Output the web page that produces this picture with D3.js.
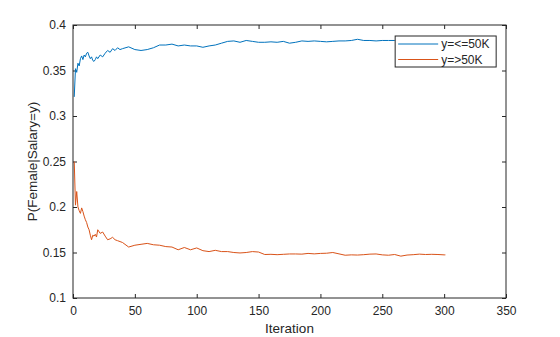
<!DOCTYPE html>
<html>
<head>
<meta charset="utf-8">
<script src="https://cdn.jsdelivr.net/npm/d3@7"></script>
<style>
  body { margin: 0; background: #fff; }
  svg { display: block; font-family: Arial, "Liberation Sans", sans-serif; }
  .tick text { fill: #262626; font-size: 12px; }
</style>
</head>
<body>
<svg id="chart" width="560" height="337"></svg>
<script>
// ======================
// DATA
// ======================

const iterations = [
    1, 2, 3, 4, 5, 6, 7, 8, 9, 10, 11, 12, 13, 14, 15, 16, 17, 18, 19, 20,
    22, 24, 26, 28, 30, 32, 34, 36, 38, 40,
    45, 50, 55, 60, 65, 70, 75, 80, 85, 90, 95, 100,
    105, 110, 115, 120, 125, 130, 135, 140, 145, 150,
    155, 160, 165, 170, 175, 180, 185, 190, 195, 200,
    205, 210, 215, 220, 225, 230, 235, 240, 245, 250,
    255, 260, 265, 270, 275, 280, 285, 290, 295, 300, 301
];

const lowSalary = [
    0.321, 0.352, 0.348, 0.358, 0.355, 0.363, 0.366, 0.362, 0.367, 0.365,
    0.369, 0.370, 0.366, 0.363, 0.365, 0.361, 0.360, 0.362, 0.365, 0.363,
    0.367, 0.365, 0.369, 0.372, 0.370, 0.374, 0.372, 0.375, 0.373, 0.374,
    0.376, 0.373, 0.372, 0.373, 0.375, 0.378, 0.378, 0.379, 0.377, 0.378, 0.377, 0.377,
    0.3755, 0.377, 0.378, 0.380, 0.382, 0.3825, 0.381, 0.383, 0.382, 0.381,
    0.381, 0.3815, 0.381, 0.382, 0.380, 0.381, 0.3825, 0.382, 0.3825, 0.382,
    0.3815, 0.382, 0.3825, 0.3825, 0.383, 0.3843, 0.383, 0.383, 0.3825, 0.383,
    0.383, 0.383, 0.383, 0.3832, 0.383, 0.3835, 0.383, 0.3835, 0.383, 0.3833, 0.3833
];

const highSalary = [
    0.250, 0.202, 0.217, 0.200, 0.196, 0.193, 0.199, 0.195, 0.190, 0.186,
    0.183, 0.178, 0.175, 0.169, 0.164, 0.169, 0.168, 0.170, 0.167, 0.175,
    0.171, 0.1725, 0.168, 0.164, 0.165, 0.1667, 0.164, 0.163, 0.162, 0.161,
    0.156, 0.158, 0.159, 0.160, 0.1585, 0.158, 0.1565, 0.156, 0.153, 0.1555, 0.153, 0.155,
    0.152, 0.151, 0.1524, 0.151, 0.151, 0.150, 0.1495, 0.150, 0.151, 0.1505,
    0.1478, 0.148, 0.1476, 0.148, 0.1484, 0.1484, 0.1482, 0.149, 0.1485, 0.149,
    0.1492, 0.150, 0.1485, 0.147, 0.1474, 0.1472, 0.1476, 0.1482, 0.1484, 0.1474,
    0.147, 0.1478, 0.146, 0.1472, 0.1476, 0.1482, 0.1478, 0.148, 0.1478, 0.1474, 0.1474
];

const seriesNames = ["y=<=50K", "y=>50K"];
const seriesColors = ["#0072BD", "#D95319"];
const xTicks = [0, 50, 100, 150, 200, 250, 300, 350];
const yTicks = [0.1, 0.15, 0.2, 0.25, 0.3, 0.35, 0.4];

// ======================
// SETUP
// ======================

const svg = d3.select("#chart");
const margin = { top: 25, right: 54, bottom: 39, left: 73 };
const width = 560, height = 337;
const innerW = width - margin.left - margin.right;
const innerH = height - margin.top - margin.bottom;

const g = svg.append("g")
    .attr("transform", `translate(${margin.left},${margin.top})`);

const x = d3.scaleLinear().domain([0, 350]).range([0, innerW]);
const y = d3.scaleLinear().domain([0.1, 0.4]).range([innerH, 0]);

const axisColor = "#262626";
const tickLen = 4;

// bottom / left axes with labels, inward ticks
const xAxisG = g.append("g")
    .attr("transform", `translate(0,${innerH})`)
    .call(d3.axisBottom(x).tickValues(xTicks).tickSizeInner(-tickLen).tickSizeOuter(0).tickPadding(8));
const yAxisG = g.append("g")
    .call(d3.axisLeft(y).tickValues(yTicks).tickFormat(d3.format("")).tickSizeInner(-tickLen).tickSizeOuter(0).tickPadding(7));

// top / right axes, ticks only
g.append("g")
    .call(d3.axisTop(x).tickValues(xTicks).tickSizeInner(-tickLen).tickSizeOuter(0).tickFormat(""));
g.append("g")
    .attr("transform", `translate(${innerW},0)`)
    .call(d3.axisRight(y).tickValues(yTicks).tickSizeInner(-tickLen).tickSizeOuter(0).tickFormat(""));

g.selectAll(".domain").remove();
g.selectAll(".tick line").attr("stroke", axisColor);

// ======================
// LINES
// ======================

const line = d3.line()
    .x((d, i) => x(iterations[i]))
    .y(d => y(d));

[lowSalary, highSalary].forEach((vals, k) => {
    g.append("path")
        .datum(vals)
        .attr("fill", "none")
        .attr("stroke", seriesColors[k])
        .attr("stroke-width", 1)
        .attr("d", line);
});

// box
g.append("rect")
    .attr("x", 0).attr("y", 0)
    .attr("width", innerW).attr("height", innerH)
    .attr("fill", "none")
    .attr("stroke", axisColor)
    .attr("stroke-width", 1);

// axis labels
g.append("text")
    .attr("x", innerW / 2)
    .attr("y", innerH + 35)
    .attr("text-anchor", "middle")
    .attr("fill", axisColor)
    .style("font-size", "13.5px")
    .text("Iteration");

g.append("text")
    .attr("transform", "rotate(-90)")
    .attr("x", -innerH / 2)
    .attr("y", -36)
    .attr("text-anchor", "middle")
    .attr("fill", axisColor)
    .style("font-size", "13.5px")
    .text("P(Female|Salary=y)");

// ======================
// LEGEND
// ======================

const legend = g.append("g")
    .attr("transform", `translate(${x(260) + 0.5},${11})`);

legend.append("rect")
    .attr("width", 101)
    .attr("height", 31)
    .attr("fill", "#fff")
    .attr("stroke", axisColor)
    .attr("stroke-width", 1);

seriesNames.forEach((name, k) => {
    const ly = 8 + k * 15.5;
    legend.append("line")
        .attr("x1", 3).attr("x2", 43)
        .attr("y1", ly).attr("y2", ly)
        .attr("stroke", seriesColors[k])
        .attr("stroke-width", 1);
    legend.append("text")
        .attr("x", 46)
        .attr("y", ly + 4)
        .attr("fill", axisColor)
        .style("font-size", "12px")
        .text(name);
});
</script>
</body>
</html>
